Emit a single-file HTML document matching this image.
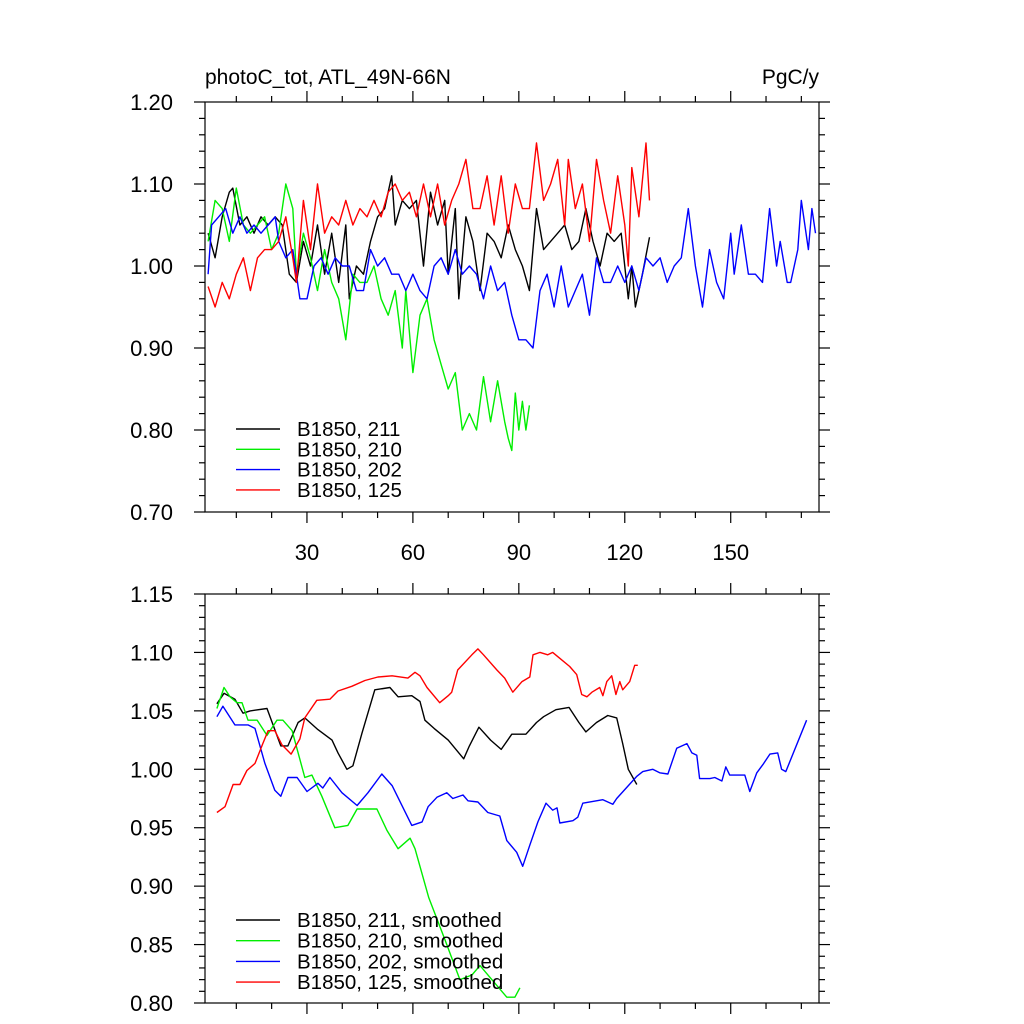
<!DOCTYPE html>
<html><head><meta charset="utf-8">
<style>
html,body{margin:0;padding:0;background:#fff;}
svg{display:block;font-family:"Liberation Sans",sans-serif;}
</style></head>
<body>
<svg id="chart" width="1024" height="1024" viewBox="0 0 1024 1024" xmlns="http://www.w3.org/2000/svg">
<g id="g"></g>
</svg>
<script>
// ---- data ----
const xTickLabels = [30, 60, 90, 120, 150];
const topYTicks = [0.70, 0.80, 0.90, 1.00, 1.10, 1.20];
const botYTicks = [0.80, 0.85, 0.90, 0.95, 1.00, 1.05, 1.10, 1.15];
const seriesNames = ["B1850, 211", "B1850, 210", "B1850, 202", "B1850, 125"];
const seriesColors = ["#000000", "#00ee00", "#0000ff", "#ff0000"];

const raw211Years = [2,4,6,8,9,11,13,15,17,19,21,23,25,27,29,31,33,35,37,39,41,42,44,46,48,50,52,54,55,57,59,61,63,65,67,69,70,72,73,75,77,79,81,83,85,87,89,91,93,95,97,99,101,103,105,107,109,111,113,115,117,119,121,122,123,125,127];
const raw211Vals = [1.04,1.01,1.06,1.09,1.095,1.05,1.06,1.04,1.06,1.05,1.06,1.05,0.99,0.98,1.03,1.00,1.05,0.99,1.04,0.98,1.05,0.96,1.00,0.99,1.03,1.06,1.07,1.11,1.05,1.08,1.07,1.08,1.00,1.09,1.05,1.08,0.99,1.07,0.96,1.06,1.03,0.97,1.04,1.03,1.01,1.05,1.02,1.00,0.97,1.07,1.02,1.03,1.04,1.05,1.02,1.03,1.07,1.03,1.00,1.04,1.03,1.04,0.96,1.00,0.95,0.99,1.035];

const raw210Years = [2,4,6,8,10,12,14,16,18,20,22,24,26,27,29,31,33,35,37,39,41,43,45,47,49,51,53,55,57,58,60,62,64,66,68,70,72,74,76,78,80,82,84,86,87,88,89,90,91,92,93];
const raw210Vals = [1.03,1.08,1.07,1.03,1.095,1.05,1.04,1.05,1.06,1.02,1.04,1.10,1.07,0.99,1.04,1.01,0.97,1.02,0.98,0.96,0.91,0.99,0.98,0.98,1.00,0.96,0.94,0.97,0.90,0.97,0.87,0.94,0.96,0.91,0.88,0.85,0.87,0.80,0.82,0.80,0.865,0.81,0.86,0.81,0.79,0.775,0.845,0.80,0.835,0.80,0.83];

const raw202Years = [2,3,5,7,9,11,13,15,17,19,21,22,24,26,28,30,32,34,36,38,40,42,44,46,48,50,52,54,56,58,60,62,64,66,68,70,72,74,76,78,80,82,84,86,88,90,92,94,96,98,100,102,104,106,108,110,112,114,116,118,120,122,124,126,128,130,132,134,136,138,140,142,144,146,148,150,151,153,155,157,159,161,163,164,166,167,169,170,172,173,174];
const raw202Vals = [0.99,1.05,1.06,1.07,1.04,1.06,1.04,1.05,1.04,1.05,1.06,1.03,1.01,1.02,0.96,0.96,1.00,1.01,0.99,1.01,1.00,1.00,0.97,0.97,1.02,1.00,1.01,0.99,0.99,0.97,0.99,0.97,0.96,1.00,1.01,0.99,1.02,0.99,1.00,0.99,0.96,1.00,0.97,0.98,0.94,0.91,0.91,0.90,0.97,0.99,0.95,1.00,0.95,0.97,0.99,0.94,1.01,0.98,0.98,1.00,0.98,1.00,0.97,1.01,1.00,1.01,0.98,1.00,1.01,1.07,1.00,0.95,1.02,0.98,0.96,1.04,0.99,1.05,0.99,0.99,0.98,1.07,1.00,1.03,0.98,0.98,1.02,1.08,1.02,1.07,1.04];

const raw125Years = [2,4,6,8,10,12,14,16,18,20,22,24,26,27,29,31,33,35,37,39,41,43,45,47,49,51,53,55,57,59,61,63,65,67,69,71,73,75,77,79,81,83,85,87,89,91,93,95,97,99,101,103,104,106,108,110,112,114,116,118,120,121,122,124,126,127];
const raw125Vals = [0.975,0.95,0.98,0.96,0.99,1.01,0.97,1.01,1.02,1.02,1.03,1.06,1.01,0.98,1.08,1.02,1.10,1.04,1.06,1.05,1.08,1.05,1.07,1.06,1.08,1.06,1.09,1.10,1.08,1.09,1.06,1.10,1.06,1.10,1.05,1.08,1.10,1.13,1.07,1.07,1.11,1.05,1.11,1.04,1.10,1.07,1.07,1.15,1.08,1.10,1.13,1.05,1.13,1.07,1.10,1.03,1.13,1.08,1.04,1.11,1.05,1.00,1.12,1.06,1.15,1.08];

const sm211Years = [4.5,6.5,9.6,11.9,13.9,18.7,22.6,24.6,27.5,29.4,33.1,37.1,38.8,41.3,43,45.6,49.2,53.5,55.8,59.7,62,63.4,66,70,74.4,76,78.7,82,85,88,92,95,97,100.5,104.2,107,109,112,115.2,117.7,119.4,121,123.4];
const sm211Vals = [1.056,1.065,1.06,1.048,1.05,1.052,1.02,1.02,1.04,1.044,1.034,1.025,1.014,1.0,1.003,1.031,1.068,1.07,1.062,1.063,1.058,1.042,1.035,1.025,1.009,1.02,1.036,1.025,1.017,1.03,1.03,1.04,1.045,1.051,1.053,1.04,1.032,1.04,1.046,1.044,1.022,1.0,0.987];

const sm210Years = [4.5,6.5,8.2,10.2,11.6,13.3,15.9,18.7,21.5,23.2,25.8,29.4,31.4,34.2,37.9,41.6,44.2,49.8,52.6,55.8,59.2,60.6,64.5,69.1,73.3,76.7,79,81.8,86.6,88.9,90.3];
const sm210Vals = [1.052,1.07,1.062,1.057,1.057,1.042,1.042,1.029,1.042,1.042,1.033,0.993,0.995,0.977,0.95,0.952,0.966,0.966,0.948,0.932,0.941,0.932,0.89,0.854,0.82,0.824,0.832,0.822,0.805,0.805,0.813];

const sm202Years = [4.5,6.2,9.6,13.3,15.3,18.1,20.9,22.6,24.6,27.2,30,33.1,34.5,36.5,39.9,44.2,47.3,51.2,54.1,59.7,62.6,64.3,66.8,69.6,71.3,74.2,75.6,78.4,81.2,84.6,86.6,89.4,91.1,93.1,95.4,97.7,99.6,100.8,101.6,105.3,106.7,108.1,113.8,116.6,117.7,123.4,125.1,127.9,129.9,132.2,134.7,137.6,139,140.4,141.2,144.1,145.5,147.5,148.6,149.7,154,155.4,157.4,159.1,161.1,163.3,164.4,165.6,171.5];
const sm202Vals = [1.045,1.054,1.038,1.038,1.035,1.005,0.982,0.977,0.993,0.993,0.981,0.988,0.984,0.993,0.98,0.969,0.98,0.996,0.986,0.952,0.955,0.968,0.976,0.98,0.975,0.978,0.973,0.972,0.963,0.96,0.939,0.929,0.917,0.935,0.955,0.971,0.965,0.967,0.954,0.956,0.959,0.971,0.974,0.97,0.975,0.994,0.998,1.0,0.997,0.996,1.018,1.022,1.014,1.012,0.992,0.992,0.993,0.99,1.002,0.995,0.995,0.981,0.997,1.004,1.013,1.014,1.0,0.998,1.042];

const sm125Years = [4.5,6.8,9.1,11,13,15.3,17.5,19,20.9,22.9,25.5,28,29.4,32.8,36.5,38.8,42.7,46.4,50.1,54.1,58.6,60.6,62,64,67.6,70,71,72.7,76.7,78.4,80,83.8,86,88.3,90.9,93.1,94,96,98.2,99.6,101.6,104.4,106.4,107.8,109.3,110.7,112.9,113.8,114.9,116.3,117.5,118.6,119.4,121.4,122.8,123.7];
const sm125Vals = [0.963,0.968,0.987,0.987,0.999,1.005,1.022,1.033,1.033,1.021,1.013,1.026,1.044,1.059,1.06,1.067,1.071,1.076,1.079,1.08,1.078,1.083,1.08,1.07,1.057,1.063,1.066,1.085,1.098,1.103,1.098,1.085,1.078,1.066,1.075,1.079,1.098,1.1,1.098,1.1,1.095,1.088,1.081,1.064,1.062,1.066,1.07,1.063,1.075,1.08,1.064,1.075,1.068,1.075,1.089,1.089];

// ---- drawing ----
const NS = "http://www.w3.org/2000/svg";
const g = document.getElementById("g");
const X0 = 205, X1 = 819, XMIN = 1.13, XMAX = 175;
function xs(t){ return X0 + (t - XMIN) / (XMAX - XMIN) * (X1 - X0); }
const TOP = {y0:102, y1:512, vmin:0.70, vmax:1.20, minor:0.02};
const BOT = {y0:594, y1:1003, vmin:0.80, vmax:1.15, minor:0.01};
function ys(p, v){ return p.y1 - (v - p.vmin) / (p.vmax - p.vmin) * (p.y1 - p.y0); }
function mk(tag, attrs, parent){
  const e = document.createElementNS(NS, tag);
  for (const k in attrs) e.setAttribute(k, attrs[k]);
  (parent || g).appendChild(e);
  return e;
}
function line(x1,y1,x2,y2,parent){
  return mk("line",{x1:x1,y1:y1,x2:x2,y2:y2,stroke:"#000","stroke-width":1.2},parent);
}

function drawPanel(p, yTicks, name, showXLabels){
  const pg = mk("g",{});
  
  
  const frame = mk("rect",{x:X0,y:p.y0,width:X1-X0,height:p.y1-p.y0,fill:"none",stroke:"#000","stroke-width":1.2},pg);
  
  
  for (let t = 10; t <= 170; t += 10){
    const x = xs(t), major = (t % 30 === 0);
    const L = major ? 11 : 6;
    line(x, p.y1, x, p.y1 + L, pg);
    line(x, p.y0, x, p.y0 - L, pg);
  }
  const n = Math.round((p.vmax - p.vmin) / p.minor);
  const majorStep = yTicks[1] - yTicks[0];
  for (let i = 0; i <= n; i++){
    const v = p.vmin + i * p.minor;
    const r = (v - p.vmin) / majorStep;
    const major = Math.abs(r - Math.round(r)) < 1e-6;
    const L = major ? 11 : 6;
    const y = ys(p, v);
    line(X0 - L, y, X0, y, pg);
    line(X1, y, X1 + L, y, pg);
  }
  yTicks.forEach(v => {
    const tx = mk("text",{x:X0-32,y:ys(p,v)+8,"text-anchor":"end","font-size":22},pg);
    tx.textContent = v.toFixed(2);
    
    
  });
  if (showXLabels){
    xTickLabels.forEach(t => {
      const tx = mk("text",{x:xs(t),y:p.y1+48,"text-anchor":"middle","font-size":22},pg);
      tx.textContent = String(t);
      
      
    });
  }
}

function drawSeries(p, years, vals, color, name){
  const pts = years.map((t,i) => xs(t).toFixed(1) + "," + ys(p, vals[i]).toFixed(1)).join(" ");
  const pl = mk("polyline",{points:pts,fill:"none",stroke:color,"stroke-width":1.4,"stroke-linejoin":"round"});
  
  
}

function drawLegend(yStart, dy, suffix, name){
  seriesNames.forEach((s,i) => {
    const y = yStart + i*dy;
    const lg = mk("g",{});
    
    
    mk("line",{x1:236,y1:y,x2:280,y2:y,stroke:seriesColors[i],"stroke-width":1.4},lg);
    const tx = mk("text",{x:297,y:y+7,"font-size":20.5},lg);
    tx.textContent = s + suffix;
  });
}

drawPanel(TOP, topYTicks, "top-panel", true);
drawPanel(BOT, botYTicks, "bottom-panel", false);

drawSeries(TOP, raw211Years, raw211Vals, seriesColors[0], "line-211");
drawSeries(TOP, raw210Years, raw210Vals, seriesColors[1], "line-210");
drawSeries(TOP, raw202Years, raw202Vals, seriesColors[2], "line-202");
drawSeries(TOP, raw125Years, raw125Vals, seriesColors[3], "line-125");

drawSeries(BOT, sm211Years, sm211Vals, seriesColors[0], "line-211-smoothed");
drawSeries(BOT, sm210Years, sm210Vals, seriesColors[1], "line-210-smoothed");
drawSeries(BOT, sm202Years, sm202Vals, seriesColors[2], "line-202-smoothed");
drawSeries(BOT, sm125Years, sm125Vals, seriesColors[3], "line-125-smoothed");

drawLegend(429, 20.3, "", "top-legend");
drawLegend(920, 20.7, ", smoothed", "bottom-legend");

const t1 = mk("text",{x:205,y:84,"font-size":21});
t1.textContent = "photoC_tot, ATL_49N-66N";


const t2 = mk("text",{x:819,y:84,"font-size":21,"text-anchor":"end"});
t2.textContent = "PgC/y";


</script>
</body></html>
